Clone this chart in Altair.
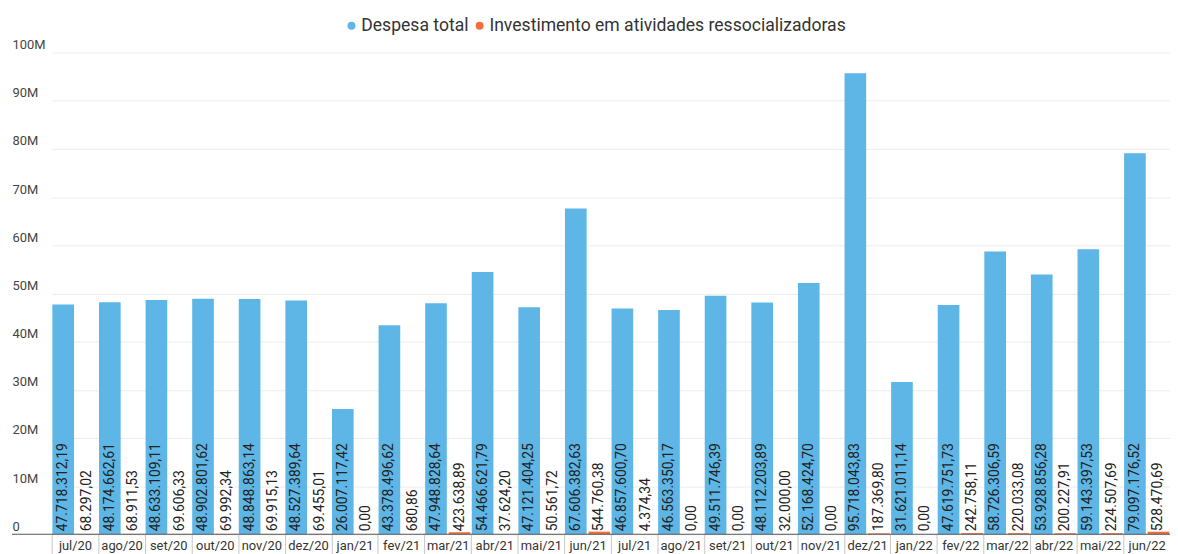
import altair as alt
import pandas as pd

months = ["jul/20", "ago/20", "set/20", "out/20", "nov/20", "dez/20",
          "jan/21", "fev/21", "mar/21", "abr/21", "mai/21", "jun/21",
          "jul/21", "ago/21", "set/21", "out/21", "nov/21", "dez/21",
          "jan/22", "fev/22", "mar/22", "abr/22", "mai/22", "jun/22"]

despesa_total = [47718312.19, 48174662.61, 48633109.11, 48902801.62, 48848863.14, 48527389.64,
                 26007117.42, 43378496.62, 47948828.64, 54466621.79, 47121404.25, 67606382.63,
                 46857600.70, 46563350.17, 49511746.39, 48112203.89, 52168424.70, 95718043.83,
                 31621011.14, 47619751.73, 58726306.59, 53928856.28, 59143397.53, 79097176.52]

investimento = [68297.02, 68911.53, 69606.33, 69992.34, 69915.13, 69455.01,
                0.00, 680.86, 423638.89, 37624.20, 50561.72, 544760.38,
                4374.34, 0.00, 0.00, 32000.00, 0.00, 187369.80,
                0.00, 242758.11, 220033.08, 200227.91, 224507.69, 528470.69]

series = ["Despesa total", "Investimento em atividades ressocializadoras"]
colors = ["#5db6e6", "#f46b3c"]
y_ticks = [0, 10e6, 20e6, 30e6, 40e6, 50e6, 60e6, 70e6, 80e6, 90e6, 100e6]


def br(v):
    s = f"{v:,.2f}"
    return s.replace(",", "X").replace(".", ",").replace("X", ".")


rows = []
for m, a, b in zip(months, despesa_total, investimento):
    rows.append({"mes": m, "serie": series[0], "valor": a, "rotulo": br(a)})
    rows.append({"mes": m, "serie": series[1], "valor": b, "rotulo": br(b)})
df = pd.DataFrame(rows)

W, H = 1166, 485
FONT = "Roboto"

x_enc = alt.X("mes:N", sort=months, title=None,
              scale=alt.Scale(range=[40, W], paddingInner=0, paddingOuter=0),
              axis=alt.Axis(labelAngle=0, domain=False, ticks=True, tickBand="extent",
                            tickSize=20, tickColor="#c6c6c6", labelPadding=-9,
                            labelBaseline="middle", labelFontSize=13, labelColor="#333333",
                            labelFont=FONT, grid=False))
xo_enc = alt.XOffset("serie:N", sort=series,
                     scale=alt.Scale(paddingInner=0.08, paddingOuter=0.03))
y_enc = alt.Y("valor:Q", title=None,
              scale=alt.Scale(domain=[0, 100e6], nice=False),
              axis=alt.Axis(values=y_ticks, domain=False, ticks=False, tickSize=0,
                            labelExpr="datum.value == 0 ? '0' : (datum.value / 1000000) + 'M'",
                            labelAlign="left", labelPadding=0, labelBaseline="alphabetic",
                            labelOffset=-4, labelFontSize=13, labelColor="#444444",
                            labelFont=FONT, grid=True, gridColor="#ececec", gridWidth=1))

base = alt.Chart(df)

bars = base.mark_bar().encode(
    x=x_enc,
    xOffset=xo_enc,
    y=y_enc,
    color=alt.Color("serie:N", sort=series,
                    scale=alt.Scale(domain=series, range=colors),
                    legend=alt.Legend(title=None, orient="none", direction="horizontal",
                                      legendX=333, legendY=-36, padding=0,
                                      symbolType="circle", symbolSize=64,
                                      symbolStrokeWidth=0, labelFontSize=17.7,
                                      labelFont=FONT, labelColor="#333333",
                                      labelLimit=0, labelOffset=1, columnPadding=2)),
)

texts = base.mark_text(angle=270, align="left", baseline="middle", dx=3,
                       fontSize=14, font=FONT, color="#222222").encode(
    x=alt.X("mes:N", sort=months),
    xOffset=alt.XOffset("serie:N", sort=series),
    y=alt.value(H),
    text="rotulo:N",
)

axis_line = alt.Chart(pd.DataFrame({"valor": [0]})).mark_rule(color="#555555", strokeWidth=1).encode(
    y=alt.Y("valor:Q"),
    x=alt.value(0),
    x2=alt.value(W),
)

chart = alt.layer(bars, texts, axis_line).properties(
    width=W, height=H,
    autosize=alt.AutoSizeParams(type="none"),
    padding={"left": 4, "top": 43, "right": 0, "bottom": 18},
).configure(font=FONT).configure_view(stroke=None)

chart.save("out.html", embed_options={"renderer": "svg", "actions": False})
